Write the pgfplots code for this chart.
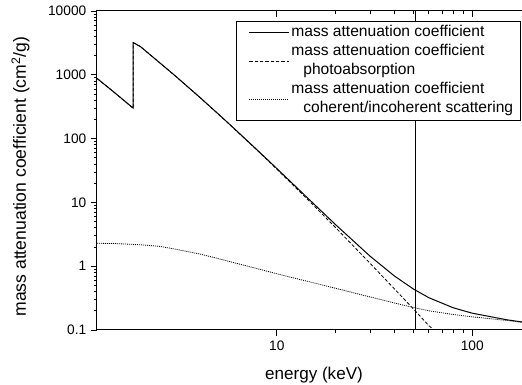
\documentclass[border=0pt]{standalone}
\usepackage{fontspec}
\setmainfont{Liberation Sans}
\usepackage{pgfplots}
\pgfplotsset{compat=1.18}
\pgfplotsset{legend image code/.code={\path[draw=none] (-5.5pt,0pt) -- (30pt,0pt); \draw[#1] (0pt,0pt) -- (30pt,0pt);}}
\begin{document}
\begin{tikzpicture}
\begin{axis}[name=ax,
  scale only axis, width=325.5pt, height=239.25pt,
  xmode=log, ymode=log, xmin=1.2, xmax=200, ymin=0.1, ymax=10000,
  axis line style={line width=0.75pt},
  major tick length=4.5pt, minor tick length=2.5pt,
  tick style={black, line width=0.6pt},
  tick align=outside, xtick pos=left, ytick pos=left,
  xtick={10,100}, xticklabels={10,100},
  ytick={0.1,1,10,100,1000,10000}, yticklabels={0.1,1,10,100,1000,10000},
  tick label style={font=\fontsize{10.3}{12}\selectfont},
  xlabel={energy (keV)},
  ylabel={mass attenuation coefficient (cm\textsuperscript{2}/g)},
  xlabel style={at={(axis description cs:0.5,-0.142)}, anchor=center, font=\fontsize{12.8}{16}\selectfont},
  ylabel style={at={(axis description cs:-0.1764,0.481)}, anchor=center, font=\fontsize{13.2}{16}\selectfont},
  legend style={at={(0.977,0.969)}, anchor=north east, draw=black, line width=0.75pt, fill=white,
    font=\fontsize{11.7}{14.2}\selectfont, inner xsep=4.5pt, inner ysep=1.5pt, row sep=0pt, column sep=0pt,
    nodes={inner xsep=1pt, inner ysep=0pt, text depth=}},
  legend cell align=left,
]
\addplot[black, line width=0.75pt, forget plot] coordinates {(51.4,0.1) (51.4,10000)};
\addplot[black, line width=0.75pt] coordinates {
(1.2,880) (1.5,505) (1.839,300) (1.839,3192) (2,2777) (3,978.4) (4,452.9) (5,245.0) (6,147.0) (8,64.68) (10,33.89) (15,10.34) (20,4.464) (30,1.436) (40,0.7012) (50,0.4385) (60,0.3207) (80,0.2228) (100,0.1835) (150,0.1448) (200,0.1275)
};
\addlegendentry{\begin{tabular}[t]{@{}l@{}}mass attenuation coefficient\end{tabular}}
\addplot[black, line width=0.6pt, dash pattern=on 2.5pt off 1.5pt] coordinates {
(1.2,878) (1.5,503) (1.839,298) (1.839,3190) (2,2775) (3,976.5) (4,451.3) (5,243.7) (6,145.9) (8,63.8) (10,33.1) (15,9.78) (20,4.01) (30,1.11) (40,0.44) (50,0.214) (60,0.117) (70,0.078)
};
\addlegendentry{\begin{tabular}[t]{@{}l@{}}mass attenuation coefficient\\\hspace*{9pt}photoabsorption\end{tabular}}
\addplot[black, line width=0.6pt, dash pattern=on 0.75pt off 0.75pt] coordinates {
(1.2,2.29) (1.5,2.26) (2,2.17) (2.5,2.05) (3,1.86) (4,1.56) (5,1.32) (6,1.14) (8,0.91) (10,0.76) (15,0.56) (20,0.45) (30,0.33) (40,0.265) (50,0.225) (60,0.2) (80,0.175) (100,0.161) (150,0.141) (200,0.127)
};
\addlegendentry{\begin{tabular}[t]{@{}l@{}}mass attenuation coefficient\\\hspace*{9pt}coherent/incoherent scattering\end{tabular}}
\end{axis}
\begin{axis}[
  scale only axis, width=325.5pt, height=239.25pt,
  xmode=log, ymode=log, xmin=1.2, xmax=200, ymin=0.1, ymax=10000,
  axis line style={line width=0.75pt},
  major tick length=4.5pt, minor tick length=2.5pt,
  tick style={black, line width=0.6pt},
  tick align=inside, xtick pos=right,
  xtick={10,100}, xticklabels={},
  ytick=\empty, yticklabels={}, yminorticks=false,
]
\end{axis}
\pgfresetboundingbox
\useasboundingbox ([xshift=-72.75pt, yshift=-41.25pt]ax.south west) rectangle ([xshift=318.75pt, yshift=8.25pt]ax.north west);
\end{tikzpicture}
\end{document}
